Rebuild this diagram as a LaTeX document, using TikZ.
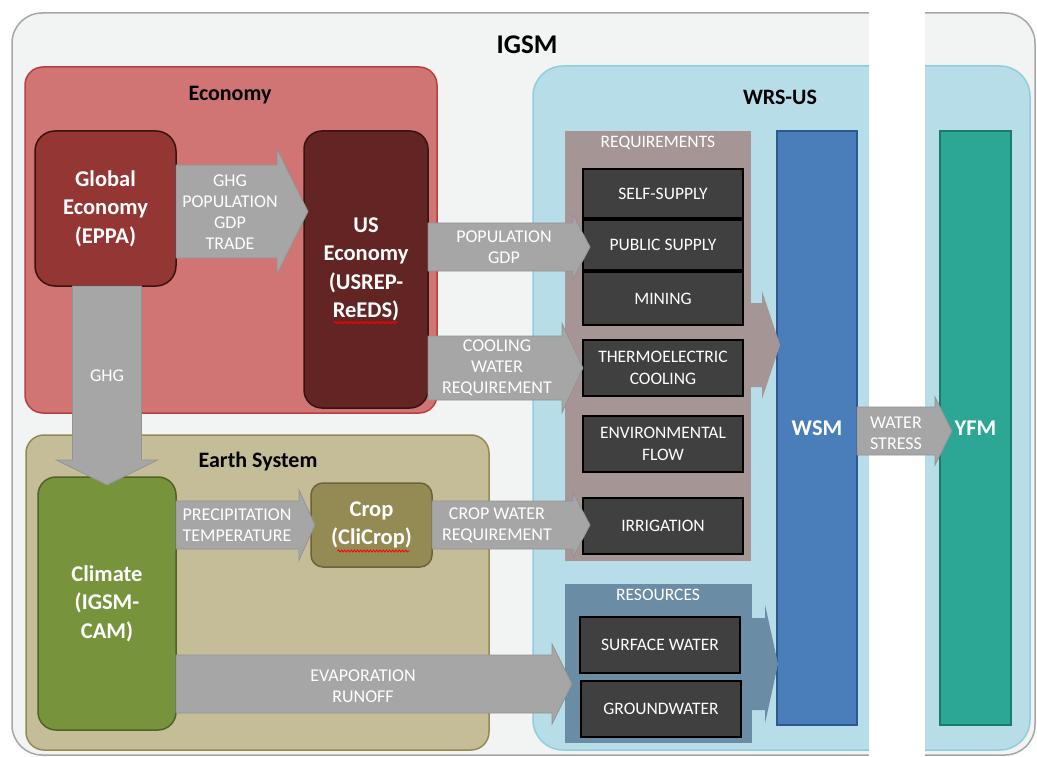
\documentclass[tikz,border=0pt]{standalone}
\usepackage{fontspec}
\setmainfont{Carlito}
\usetikzlibrary{calc,decorations.pathmorphing}

\definecolor{igsmbg}{HTML}{F2F3F3}
\definecolor{igsmline}{HTML}{A6A6A6}
\definecolor{econbg}{HTML}{D07573}
\definecolor{econline}{HTML}{B8403D}
\definecolor{gefill}{HTML}{943634}
\definecolor{usfill}{HTML}{632523}
\definecolor{boxline}{HTML}{3A1212}
\definecolor{earthbg}{HTML}{C4BD97}
\definecolor{earthline}{HTML}{948A54}
\definecolor{climfill}{HTML}{77933C}
\definecolor{climline}{HTML}{4F6228}
\definecolor{cropfill}{HTML}{948A54}
\definecolor{cropline}{HTML}{6B6339}
\definecolor{wrsbg}{HTML}{B7DEE8}
\definecolor{wrsline}{HTML}{93CDDD}
\definecolor{reqfill}{HTML}{A59595}
\definecolor{resfill}{HTML}{6A8CA4}
\definecolor{darkfill}{HTML}{404040}
\definecolor{wsmfill}{HTML}{4A7EBB}
\definecolor{wsmline}{HTML}{2C5A8F}
\definecolor{yfmfill}{HTML}{2CA796}
\definecolor{yfmline}{HTML}{1C7A6C}
\definecolor{arrfill}{HTML}{A6A6A6}
\definecolor{arrline}{HTML}{939393}

\newcommand\mytitlefont{\fontsize{22}{26}\selectfont\bfseries}
\newcommand\myboxfont{\fontsize{22.5}{28.5}\selectfont\bfseries}
\newcommand\myarrfont{\fontsize{18}{21}\selectfont}
\newcommand\mydarkfont{\fontsize{17.5}{21.5}\selectfont}
\newcommand\mypanelfont{\fontsize{17.5}{19}\selectfont}

% horizontal fat arrow: start, tip, body half, head half, head length, style
\newcommand\hfat[6]{%
  \path[#6] ($(#1)+(0,-#3)$) -- ($(#2)+(-#5,-#3)$) -- ($(#2)+(-#5,-#4)$) -- (#2)
    -- ($(#2)+(-#5,#4)$) -- ($(#2)+(-#5,#3)$) -- ($(#1)+(0,#3)$) -- cycle;}
% vertical (downward) fat arrow
\newcommand\vfat[6]{%
  \path[#6] ($(#1)+(-#3,0)$) -- ($(#2)+(-#3,-#5)$) -- ($(#2)+(-#4,-#5)$) -- (#2)
    -- ($(#2)+(#4,-#5)$) -- ($(#2)+(#3,-#5)$) -- ($(#1)+(#3,0)$) -- cycle;}

\begin{document}
\begin{tikzpicture}[x=1pt,y=-1pt,
  every node/.style={outer sep=0pt,inner sep=0pt},
  areabox/.style={anchor=north west,rectangle},
  titletext/.style={font=\mytitlefont,text=black},
  modtext/.style={font=\myboxfont,text=white,align=center},
  darkbox/.style={areabox,fill=darkfill,draw=black,line width=1.6pt,
     font=\mydarkfont,text=white,align=center,minimum width=160pt},
  paneltext/.style={font=\mypanelfont,text=white},
  fatarrow/.style={fill=arrfill,draw=arrline,line width=0.8pt,line join=miter},
  arrtext/.style={font=\myarrfont,text=white,align=center},
  spell/.style={draw=red,line width=0.8pt,decorate,
     decoration={snake,amplitude=1pt,segment length=3.2pt}}]

\useasboundingbox (0,0) rectangle (1037,757);
\fill[white] (0,0) rectangle (1037,757);

% containers
\node[areabox,fill=igsmbg,draw=igsmline,line width=1.5pt,rounded corners=30pt,
  minimum width=1023pt,minimum height=742pt] (igsm) at (12,13) {};
\node[areabox,fill=econbg,draw=econline,line width=1.5pt,rounded corners=18pt,
  minimum width=412pt,minimum height=346pt] (econ) at (25,67) {};
\node[areabox,fill=earthbg,draw=earthline,line width=1.5pt,rounded corners=18pt,
  minimum width=463pt,minimum height=315pt] (earth) at (26,435) {};
\node[areabox,fill=wrsbg,draw=wrsline,line width=1.5pt,rounded corners=30pt,
  minimum width=497pt,minimum height=684pt] (wrs) at (533,66) {};
\node[areabox,fill=white,minimum width=56pt,minimum height=757pt] (strip) at (869,0) {};

% titles
\node[font=\fontsize{27}{30}\selectfont\bfseries] (tigsm) at (527,45) {IGSM};
\node[titletext] (tecon) at (230,95) {Economy};
\node[titletext] (tearth) at (258,462) {Earth System};
\node[titletext] (twrs) at (780,97) {WRS-US};

% WSM and YFM columns
\node[areabox,fill=wsmfill,draw=wsmline,line width=1.5pt,minimum width=80pt,
  minimum height=594pt,font=\myboxfont,text=white] (wsm) at (777,131) {WSM};
\node[areabox,fill=yfmfill,draw=yfmline,line width=1.5pt,minimum width=71pt,
  minimum height=594pt,font=\myboxfont,text=white] (yfm) at (940,131) {YFM};

% requirement / resource panels with attached arrows
\node[areabox,fill=reqfill,minimum width=186pt,minimum height=430pt] (req) at (565,131) {};
\coordinate (reqs) at ($(req.east |- 0,345)+(-2,0)$);
\coordinate (reqt) at ($(wsm.west |- 0,345)+(3,0)$);
\hfat{reqs}{reqt}{42}{54}{18}{fill=reqfill}
\node[paneltext] (treq) at (658,143) {REQUIREMENTS};

\node[areabox,fill=resfill,minimum width=187pt,minimum height=159pt] (res) at (565,584) {};
\coordinate (ress) at ($(res.east |- 0,664)+(-2,0)$);
\coordinate (rest) at ($(wsm.west |- 0,664)+(1,0)$);
\hfat{ress}{rest}{46}{59.5}{13}{fill=resfill}
\node[paneltext] (tres) at (658,595) {RESOURCES};

% requirement items
\node[darkbox,minimum height=49pt] (self) at (583,169) {SELF-SUPPLY};
\node[darkbox,minimum height=50pt] (pub) at (583,220) {PUBLIC SUPPLY};
\node[darkbox,minimum height=53pt] (mine) at (583,272) {MINING};
\node[darkbox,minimum height=56pt] (thermo) at (583,340) {THERMOELECTRIC\\COOLING};
\node[darkbox,minimum height=56pt] (env) at (583,416) {ENVIRONMENTAL\\FLOW};
\node[darkbox,minimum height=56pt] (irr) at (583,498) {IRRIGATION};
\node[darkbox,minimum height=56pt] (surf) at (580,617) {SURFACE WATER};
\node[darkbox,minimum height=56pt] (ground) at (581,681) {GROUNDWATER};

% model boxes
\node[areabox,fill=gefill,draw=boxline,line width=1.5pt,rounded corners=20pt,
  minimum width=141pt,minimum height=155pt] (ge) at (35,131) {};
\node[modtext] (tge) at (ge.center) {Global\\Economy\\(EPPA)};
\node[areabox,fill=usfill,draw=boxline,line width=1.5pt,rounded corners=18pt,
  minimum width=124pt,minimum height=277pt] (us) at (304,131) {};
\node[modtext] (tus) at (us.center) {US\\Economy\\(USREP-\\ReEDS)};
\node[areabox,fill=climfill,draw=climline,line width=1.5pt,rounded corners=18pt,
  minimum width=138pt,minimum height=253pt] (clim) at (38,477) {};
\node[modtext] (tclim) at (clim.center) {Climate\\(IGSM-\\CAM)};
\node[areabox,fill=cropfill,draw=cropline,line width=1.5pt,rounded corners=12pt,
  minimum width=121pt,minimum height=84pt] (crop) at (311,483) {};
\node[modtext] (tcrop) at (crop.center) {Crop\\(CliCrop)};

% spell-check underlines
\draw[spell] ($(us.center)+(-32,53)$) -- ($(us.center)+(32,53)$);
\draw[spell] ($(crop.center)+(-34,26)$) -- ($(crop.center)+(38,26)$);

% connectors (fat arrows)
\coordinate (a1s) at (ge.east |- 0,211.5);
\coordinate (a1t) at ($(us.west |- 0,211.5)+(4,0)$);
\hfat{a1s}{a1t}{46.5}{62.5}{31}{fatarrow}
\node[arrtext] (l1) at (230,212) {GHG\\POPULATION\\GDP\\TRADE};

\coordinate (a2s) at (clim.north |- ge.south);
\coordinate (a2t) at ($(clim.north)+(0,8)$);
\vfat{a2s}{a2t}{34.5}{50.5}{25}{fatarrow}
\node[arrtext] (l2) at (107,376) {GHG};

\coordinate (a3s) at (us.east |- 0,247);
\coordinate (a3t) at ($(pub.west |- 0,247)+(7,0)$);
\hfat{a3s}{a3t}{24}{32.5}{17}{fatarrow}
\node[arrtext] (l3) at (504,247) {POPULATION\\GDP};

\coordinate (a4s) at (us.east |- thermo.west);
\coordinate (a4t) at (thermo.west);
\hfat{a4s}{a4t}{32}{44.5}{21}{fatarrow}
\node[arrtext] (l4) at (497,368) {COOLING\\WATER\\REQUIREMENT};

\coordinate (a5s) at (clim.east |- crop.west);
\coordinate (a5t) at ($(crop.west)+(4,0)$);
\hfat{a5s}{a5t}{24}{35}{16}{fatarrow}
\node[arrtext] (l5) at (237,525) {PRECIPITATION\\TEMPERATURE};

\coordinate (a6s) at (crop.east |- 0,525);
\coordinate (a6t) at ($(irr.west |- 0,525)+(7,0)$);
\hfat{a6s}{a6t}{24}{32.5}{17}{fatarrow}
\node[arrtext] (l6) at (497,525) {CROP WATER\\REQUIREMENT};

\coordinate (a7s) at (clim.east |- 0,684);
\coordinate (a7t) at ($(res.west |- 0,684)+(7,0)$);
\hfat{a7s}{a7t}{29}{40}{20}{fatarrow}
\node[arrtext] (l7) at (363,686) {EVAPORATION\\RUNOFF};

\coordinate (a8s) at (wsm.east |- 0,431);
\coordinate (a8t) at ($(yfm.west |- 0,431)+(12,0)$);
\hfat{a8s}{a8t}{24}{34}{17}{fatarrow}
\node[arrtext] (l8) at (896,433) {WATER\\STRESS};
\end{tikzpicture}
\end{document}
